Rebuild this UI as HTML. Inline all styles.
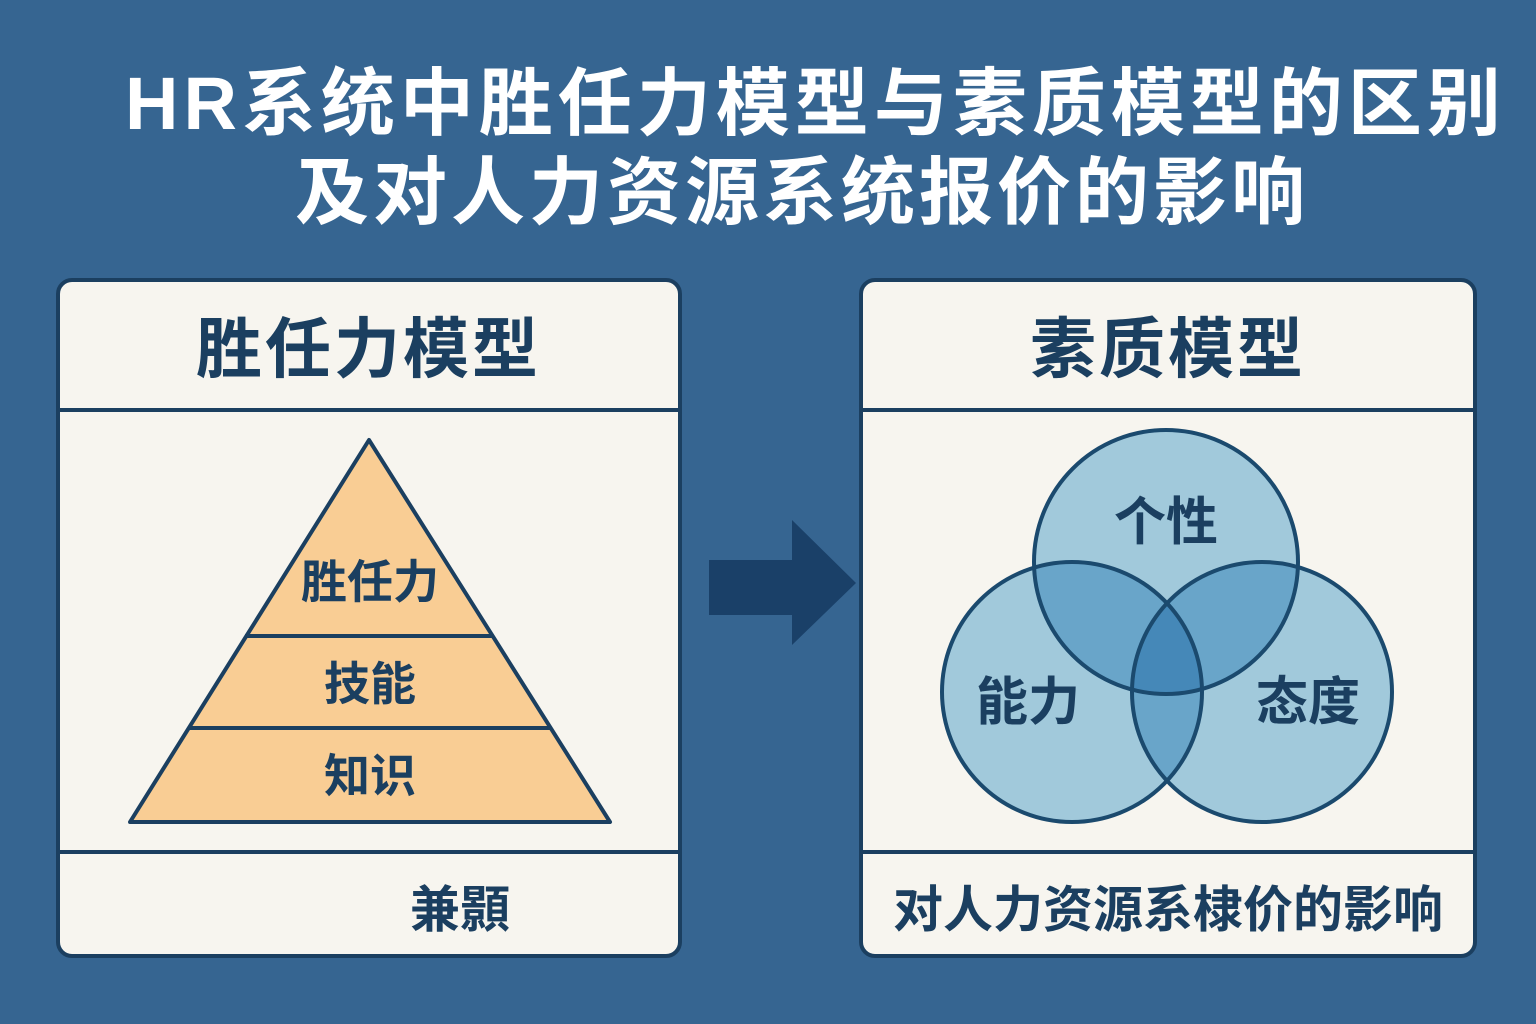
<!DOCTYPE html>
<html><head><meta charset="utf-8"><style>
body{margin:0;width:1536px;height:1024px;background:#366591;overflow:hidden;font-family:"Liberation Sans","Noto Sans CJK SC",sans-serif}
.t{position:absolute;color:#fff;font-weight:bold;white-space:nowrap;line-height:1}
.p{position:absolute;top:278px;height:680px;background:#f7f5ef;border:4px solid #1b3f60;border-radius:16px;box-sizing:border-box}
.h{position:absolute;left:0;right:0;color:#1b3f60;font-weight:bold;text-align:center}
</style></head><body>
<div class="t" style="left:125px;top:67px;font-size:74px;letter-spacing:5px">HR系统中胜任力模型与素质模型的区别</div>
<div class="t" style="left:295px;top:156px;font-size:74px;letter-spacing:4px">及对人力资源系统报价的影响</div>
<div class="p" style="left:56px;width:626px">
 <div class="h" style="top:14px;font-size:66px;text-align:left;left:136px;letter-spacing:3px">胜任力模型</div>
 <div style="position:absolute;left:0;right:0;top:126px;border-top:4px solid #1b3f60"></div>
 <div style="position:absolute;left:0;right:0;top:568px;border-top:4px solid #1b3f60"></div>
 <div class="h" style="top:588px;font-size:50px;left:350px;text-align:left">兼顥</div>
</div>
<div class="p" style="left:859px;width:618px">
 <div class="h" style="top:14px;font-size:66px;letter-spacing:3px">素质模型</div>
 <div style="position:absolute;left:0;right:0;top:126px;border-top:4px solid #1b3f60"></div>
 <div style="position:absolute;left:0;right:0;top:568px;border-top:4px solid #1b3f60"></div>
 <div class="h" style="top:588px;font-size:50px">对人力资源系棣价的影响</div>
</div>
<svg width="1536" height="1024" style="position:absolute;left:0;top:0">
 <polygon points="369,440 610,822 130,822" fill="#f9cd94" stroke="#1b3f60" stroke-width="4" stroke-linejoin="round"/>
 <line x1="245" y1="636" x2="492" y2="636" stroke="#1b3f60" stroke-width="4"/>
 <line x1="188" y1="728" x2="550" y2="728" stroke="#1b3f60" stroke-width="4"/>
 <g font-weight="bold" fill="#1b3f60" font-size="46" text-anchor="middle" font-family="Liberation Sans,Noto Sans CJK SC,sans-serif">
  <text x="370" y="598">胜任力</text><text x="370" y="700">技能</text><text x="370" y="792">知识</text>
 </g>
 <polygon points="709,560 792,560 792,520 856,583 792,645 792,615 709,615" fill="#1a4068"/>
 <circle cx="1166" cy="562" r="132" fill="#a6d2ea" style="mix-blend-mode:multiply"/>
 <circle cx="1072" cy="692" r="130" fill="#a6d2ea" style="mix-blend-mode:multiply"/>
 <circle cx="1262" cy="692" r="130" fill="#a6d2ea" style="mix-blend-mode:multiply"/>
 <g fill="none" stroke="#1b4a6e" stroke-width="4">
  <circle cx="1166" cy="562" r="132"/><circle cx="1072" cy="692" r="130"/><circle cx="1262" cy="692" r="130"/>
 </g>
 <g font-weight="bold" fill="#1b3f60" font-size="52" text-anchor="middle" font-family="Liberation Sans,Noto Sans CJK SC,sans-serif">
  <text x="1166" y="540">个性</text><text x="1028" y="720">能力</text><text x="1308" y="720">态度</text>
 </g>
</svg>
</body></html>
